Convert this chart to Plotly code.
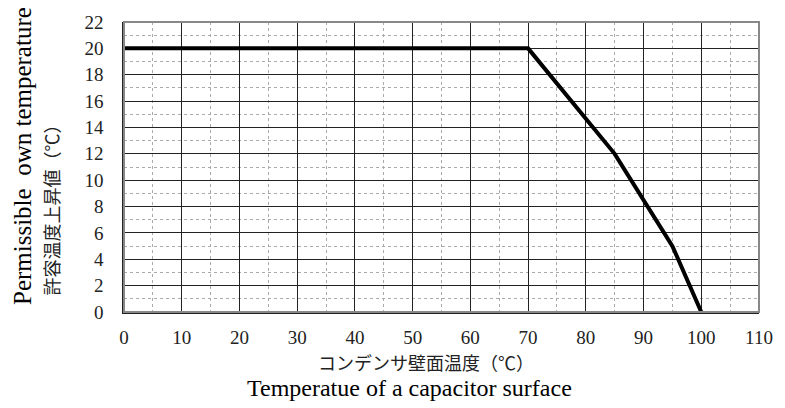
import plotly.graph_objects as go

surface_temp = [0, 70, 85, 95, 100]
own_rise = [20, 20, 12, 5, 0]
x_ticks = [0, 10, 20, 30, 40, 50, 60, 70, 80, 90, 100, 110]
y_ticks = [0, 2, 4, 6, 8, 10, 12, 14, 16, 18, 20, 22]

serif = "Liberation Serif"
jp = "Noto Sans CJK JP"

fig = go.Figure()
fig.add_trace(go.Scatter(x=surface_temp, y=own_rise, mode="lines",
                         line=dict(color="black", width=4), showlegend=False,
                         cliponaxis=False))

axis_common = dict(
    showgrid=True, gridcolor="#222", gridwidth=1,
    showline=True, linecolor="#222", linewidth=1.5, mirror=False,
    ticks="", tickfont=dict(family=serif, size=19, color="#222"),
    zeroline=False,
)
fig.update_xaxes(range=[0, 110], tickvals=x_ticks, ticklabelstandoff=7,
                 minor=dict(dtick=5, showgrid=True, gridcolor="#aaa", griddash="dot", gridwidth=1),
                 **axis_common)
fig.update_yaxes(range=[0, 22], tickvals=y_ticks, ticklabelstandoff=15,
                 minor=dict(dtick=1, showgrid=True, gridcolor="#aaa", griddash="dot", gridwidth=1),
                 **axis_common)

# gray frame (top/right)
fig.add_shape(type="rect", xref="paper", yref="paper", x0=0, y0=0, x1=1, y1=1,
              line=dict(color="#888", width=2), layer="above")

anns = [
    dict(text="Permissible  own temperature", x=-0.159, y=0.538, textangle=-90,
         font=dict(family=serif, size=25, color="black")),
    dict(text="許容温度上昇値（℃）", x=-0.115, y=0.367, textangle=-90,
         font=dict(family=jp, size=18, color="#222")),
    dict(text="コンデンサ壁面温度（℃）", x=0.476, y=-0.172,
         font=dict(family=jp, size=18, color="#222")),
    dict(text="Temperatue of a capacitor surface", x=0.45, y=-0.262,
         font=dict(family=serif, size=24, color="black")),
]
for a in anns:
    fig.add_annotation(xref="paper", yref="paper", showarrow=False,
                       xanchor="center", yanchor="middle", **a)

fig.update_layout(width=785, height=408, margin=dict(l=124, r=18, t=22, b=96),
                  font=dict(family=serif, color="#222"),
                  plot_bgcolor="white", paper_bgcolor="white")
fig.write_html("out.html")
